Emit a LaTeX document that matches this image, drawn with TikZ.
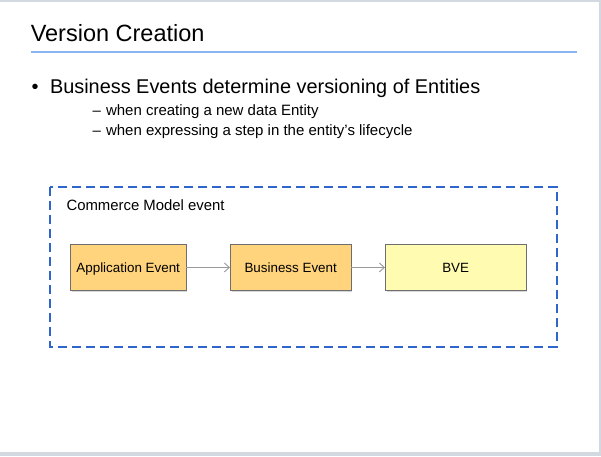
\documentclass[tikz,border=0pt]{standalone}
\usepackage{fontspec}
\setmainfont{Liberation Sans}
\usetikzlibrary{arrows.meta,shadows}
\definecolor{frameg}{HTML}{D3D9E1}
\definecolor{ruleblue}{HTML}{8AB4F2}
\definecolor{dashblue}{HTML}{2F66CC}
\definecolor{orangebox}{HTML}{FFD47C}
\definecolor{yellowbox}{HTML}{FFFCB2}
\definecolor{boxline}{HTML}{6E6E6E}
\definecolor{arrowg}{HTML}{999999}
\tikzset{
  txt/.style={anchor=base west, inner sep=0pt, outer sep=0pt},
  evbox/.style={draw=boxline, line width=0.9pt, anchor=north west, inner sep=0pt,
    font=\fontsize{13.4}{15}\selectfont, text height=9.4pt, text depth=0pt,
    drop shadow={shadow xshift=1.5pt, shadow yshift=-1.5pt, fill=black!25, opacity=0.6}},
  flow/.style={draw=arrowg, line width=0.9pt, -{Straight Barb[length=5pt,width=9pt,line width=0.9pt]}}
}
\begin{document}
\begin{tikzpicture}[x=1pt,y=-1pt]
\useasboundingbox (0,0) rectangle (601,456);
\fill[white] (0,0) rectangle (601,456);
% frame strips
\fill[frameg] (0,0) rectangle (601,2);
\fill[frameg] (598.5,0) rectangle (601,456);
\fill[frameg] (0,452) rectangle (601,456);
% title
\node[txt, font=\fontsize{23.5}{28}\selectfont] (title) at (30.8,41.7) {Version Creation};
\draw[ruleblue, line width=2pt] (31,52) -- (577,52);
% bullets
\node[txt, font=\fontsize{19.9}{23}\selectfont] (b0) at (31.5,93.5) {•};
\node[txt, font=\fontsize{19.9}{23}\selectfont] (b1) at (50,93.5) {Business Events determine versioning of Entities};
\node[txt, font=\fontsize{15}{17}\selectfont] (d1) at (92.5,115) {–};
\node[txt, font=\fontsize{15}{17}\selectfont] (s1) at (106,115) {when creating a new data Entity};
\node[txt, font=\fontsize{15}{17}\selectfont] (d2) at (92.5,135.3) {–};
\node[txt, font=\fontsize{15}{17}\selectfont] (s2) at (106,135.3) {when expressing a step in the entity’s lifecycle};
% dashed container
\draw[dashblue, line width=1.8pt, dash pattern=on 9pt off 5pt] (50,186.7) rectangle (556.7,346.7);
\node[txt, font=\fontsize{14.9}{17}\selectfont] (cm) at (66.5,210.3) {Commerce Model event};
% boxes
\node[evbox, fill=orangebox, minimum width=115.5pt, minimum height=46pt] (ae) at (70,244) {Application Event};
\node[evbox, fill=orangebox, minimum width=120.5pt, minimum height=46pt] (be) at (230,244) {Business Event};
\node[evbox, fill=yellowbox, minimum width=140.5pt, minimum height=46pt] (bve) at (385,244) {BVE};
\draw[flow] (ae.east) -- (be.west);
\draw[flow] (be.east) -- (bve.west);
\end{tikzpicture}
\end{document}
